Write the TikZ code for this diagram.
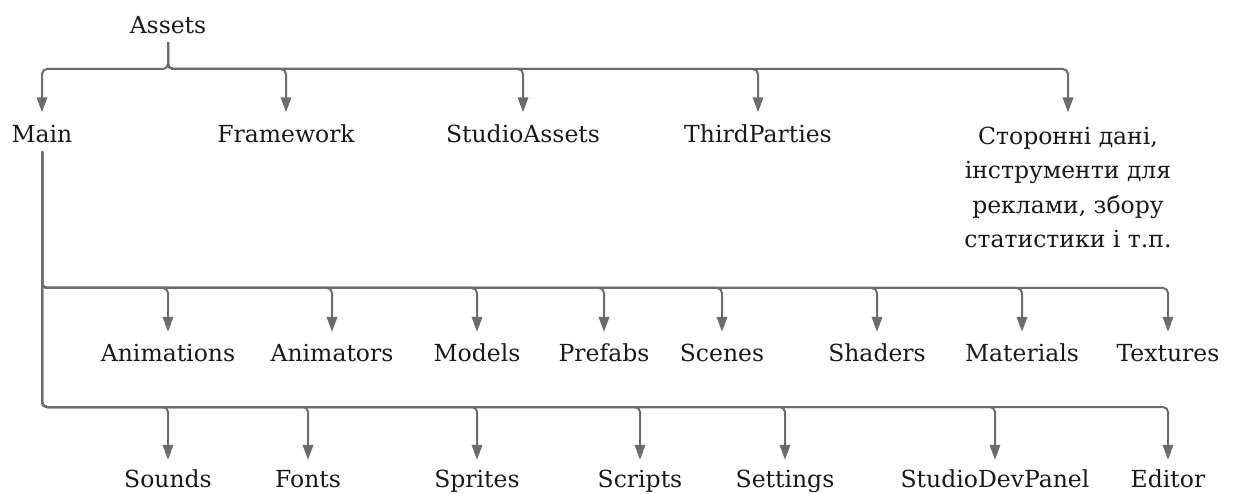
\documentclass[tikz,border=0pt]{standalone}
\usepackage{fontspec}
\setmainfont{DejaVu Serif}
\usetikzlibrary{arrows.meta}
\definecolor{lc}{RGB}{108,108,108}
\definecolor{tc}{RGB}{25,25,25}
\begin{document}
\begin{tikzpicture}[x=1pt,y=-1pt,
  conn/.style={draw=lc, line width=2pt, rounded corners=5pt,
    -{Triangle[width=10.5pt,length=15pt]}, shorten >=14pt},
  lbl/.style={inner sep=0pt, text height=17pt, text depth=9pt, anchor=base,
    text=tc, font=\fontsize{23.5}{27}\selectfont},
  multi/.style={inner sep=0pt, anchor=north, align=center,
    text=tc, font=\fontsize{23.5}{34.5}\selectfont},
]
\useasboundingbox (0,0) rectangle (1234,494);
% top
\node[lbl] (assets) at (168,33.3) {Assets};
\node[lbl] (main) at (42,142.5) {Main};
\node[lbl] (framework) at (286,142.5) {Framework};
\node[lbl] (studioassets) at (523,142.5) {StudioAssets};
\node[lbl] (thirdparties) at (758,142.5) {ThirdParties};
\node[multi] (other) at (1068,126.5) {Сторонні дані,\\інструменти для\\реклами, збору\\статистики і т.п.};
% middle row
\node[lbl] (animations) at (168,361.5) {Animations};
\node[lbl] (animators) at (332,361.5) {Animators};
\node[lbl] (models) at (477,361.5) {Models};
\node[lbl] (prefabs) at (604,361.5) {Prefabs};
\node[lbl] (scenes) at (722,361.5) {Scenes};
\node[lbl] (shaders) at (877,361.5) {Shaders};
\node[lbl] (materials) at (1022,361.5) {Materials};
\node[lbl] (textures) at (1168,361.5) {Textures};
% bottom row
\node[lbl] (sounds) at (168,487.5) {Sounds};
\node[lbl] (fonts) at (308,487.5) {Fonts};
\node[lbl] (sprites) at (477,487.5) {Sprites};
\node[lbl] (scripts) at (640,487.5) {Scripts};
\node[lbl] (settings) at (785,487.5) {Settings};
\node[lbl] (studiodevpanel) at (995,487.5) {StudioDevPanel};
\node[lbl] (editor) at (1168,487.5) {Editor};
% bus coordinates
\coordinate (b0) at (168,69);
\coordinate (b1) at (42,288);
\coordinate (b2) at (42,407);
% connectors from Assets
\foreach \c in {main,framework,studioassets,thirdparties}
  \draw[conn, shorten >=13pt] (assets.south) -- (b0) -| (\c.north);
\draw[conn, shorten >=14pt] (assets.south) -- (b0) -| (other.north);
% connectors from Main
\foreach \c in {animations,animators,models,prefabs,scenes,shaders,materials,textures}
  \draw[conn, shorten >=12.5pt] (main.south) -- (b1) -| (\c.north);
\foreach \c in {sounds,fonts,sprites,scripts,settings,studiodevpanel,editor}
  \draw[conn, shorten >=10.5pt] (main.south) -- (b2) -| (\c.north);
\end{tikzpicture}
\end{document}
